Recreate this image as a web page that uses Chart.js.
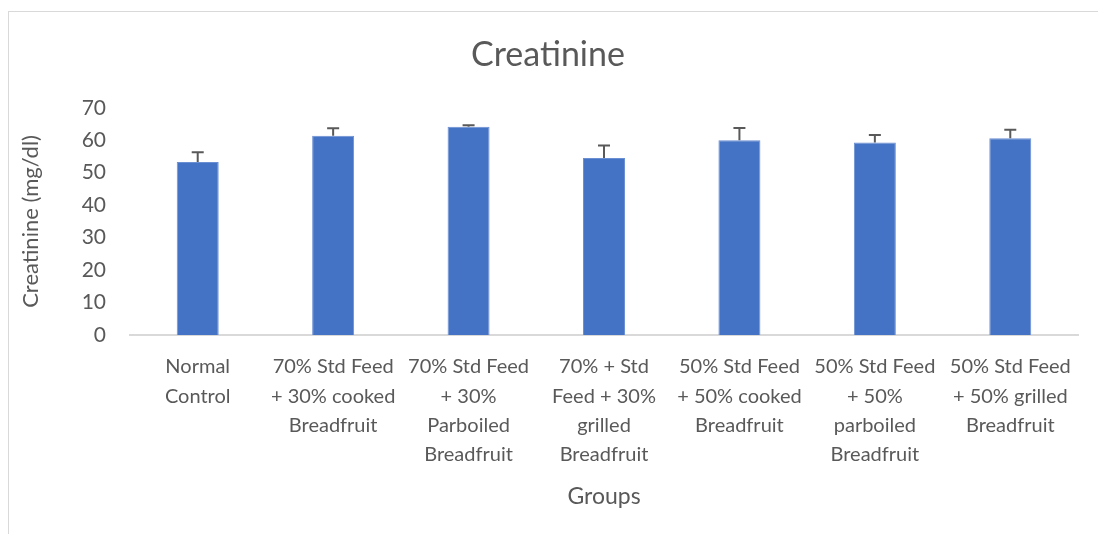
<!DOCTYPE html>
<html>
<head>
<meta charset="utf-8">
<script src="https://cdn.jsdelivr.net/npm/chart.js@4/dist/chart.umd.min.js"></script>
<style>
  html, body { margin: 0; padding: 0; background: #fff; overflow: hidden; }
  #wrap { position: relative; width: 1098px; height: 534px; }
  #frame { position: absolute; left: 8px; top: 11px; width: 1200px; height: 600px;
           border-left: 1px solid #d9d9d9; border-top: 1px solid #d9d9d9; }
  canvas { position: absolute; left: 0; top: 0; }
</style>
</head>
<body>
<div id="wrap">
  <div id="frame"></div>
  <canvas id="bar" width="1098" height="534"></canvas>
</div>
<script>
const groups = [
    ['Normal', 'Control'],
    ['70% Std Feed', '+ 30% cooked', 'Breadfruit'],
    ['70% Std Feed', '+ 30%', 'Parboiled', 'Breadfruit'],
    ['70% + Std', 'Feed + 30%', 'grilled', 'Breadfruit'],
    ['50% Std Feed', '+ 50% cooked', 'Breadfruit'],
    ['50% Std Feed', '+ 50%', 'parboiled', 'Breadfruit'],
    ['50% Std Feed', '+ 50% grilled', 'Breadfruit']
];
const creatinine = [53.3, 61.4, 64.2, 54.5, 60.0, 59.3, 60.6];
const creatinineErr = [3.0, 2.3, 0.4, 3.9, 3.8, 2.3, 2.6];
const yTicks = [0, 10, 20, 30, 40, 50, 60, 70];

const textColor = '#595959';
const fontFamily = 'Lato, "Open Sans", sans-serif';

// error bars (upper only), drawn through the y scale
const errorBars = {
    id: 'errorBars',
    afterDatasetsDraw(chart) {
        const ctx = chart.ctx;
        const y = chart.scales.y;
        const meta = chart.getDatasetMeta(0);
        ctx.save();
        ctx.strokeStyle = '#595959';
        ctx.lineWidth = 2;
        meta.data.forEach((bar, i) => {
            const top = y.getPixelForValue(creatinine[i] + creatinineErr[i]);
            ctx.beginPath();
            ctx.moveTo(bar.x, bar.y);
            ctx.lineTo(bar.x, top);
            ctx.moveTo(bar.x - 6, top);
            ctx.lineTo(bar.x + 6, top);
            ctx.stroke();
        });
        ctx.restore();
    }
};

document.addEventListener('DOMContentLoaded', () => {
    const ctx = document.getElementById('bar')?.getContext('2d');

    if (!ctx) return;

    const data = {
        labels: groups,
        datasets: [{
            label: 'Creatinine',
            data: creatinine,
            backgroundColor: '#4472c4',
            borderColor: '#6a8fd3',
            borderWidth: 1,
            barPercentage: 0.31,
            categoryPercentage: 1
        }]
    };

    const config = {
        type: 'bar',
        data: data,
        options: {
            responsive: false,
            animation: false,
            layout: { padding: { left: 18, right: 20, top: 18, bottom: 20 } },
            plugins: {
                legend: { display: false },
                tooltip: { enabled: false },
                title: {
                    display: true,
                    text: 'Creatinine',
                    color: textColor,
                    font: { family: fontFamily, size: 34, weight: 'normal' },
                    padding: { top: 17, bottom: 32 }
                }
            },
            scales: {
                x: {
                    grid: { display: false, drawTicks: false },
                    border: { color: '#d9d9d9', width: 2 },
                    ticks: {
                        color: textColor,
                        font: { family: fontFamily, size: 20, lineHeight: 1.47 },
                        padding: 17,
                        maxRotation: 0,
                        autoSkip: false
                    },
                    title: {
                        display: true,
                        text: 'Groups',
                        color: textColor,
                        font: { family: fontFamily, size: 23 },
                        padding: { top: 4, bottom: 4 }
                    },
                    afterFit: s => { s.height = 179; }
                },
                y: {
                    min: 0,
                    max: 70,
                    afterBuildTicks: s => { s.ticks = yTicks.map(v => ({ value: v })); },
                    grid: { display: false, drawTicks: false },
                    border: { display: false },
                    ticks: {
                        color: textColor,
                        font: { family: fontFamily, size: 21 },
                        padding: 24
                    },
                    title: {
                        display: true,
                        text: 'Creatinine (mg/dl)',
                        color: textColor,
                        font: { family: fontFamily, size: 22 },
                        padding: { top: 0, bottom: 0 }
                    },
                    afterFit: s => { s.width = 112; }
                }
            }
        },
        plugins: [errorBars]
    };

    new Chart(ctx, config);
});
</script>
</body>
</html>
